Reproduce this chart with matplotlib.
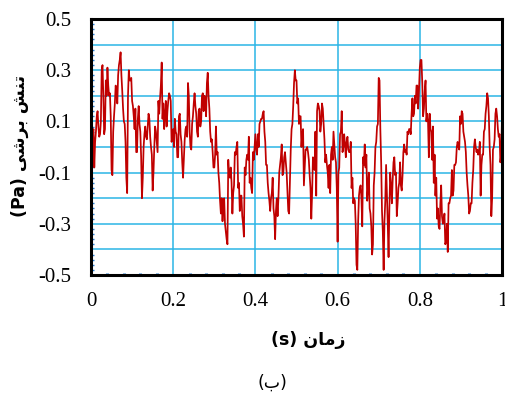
import numpy as np
import matplotlib
matplotlib.use("Agg")
import matplotlib.pyplot as plt
from matplotlib.ticker import MultipleLocator

# ---------------- data ----------------
# samples read at t = 0, 0.004, 0.008, ... , 1.0
stress_a = [
    -0.05, 0.05, -0.08, 0.06, 0.14, 0.04, 0.10, 0.32, 0.05, 0.26,
    0.31, 0.20, 0.12, -0.11, 0.12, 0.24, 0.17, 0.32, 0.37, 0.22,
    0.10, 0.02, -0.18, 0.30, 0.26, 0.18, 0.12, 0.15, -0.02, 0.16,
    0.06, -0.20, 0.00, 0.08, 0.03, 0.13, 0.04, -0.03, -0.10, 0.08,
    0.02, 0.18, 0.19, 0.33, 0.17, 0.12, 0.08, 0.18, 0.20, 0.02,
    0.07, 0.11, 0.05, -0.04, 0.13, 0.02, -0.12, 0.03, 0.08, 0.25,
    0.06, -0.01, 0.12, 0.21, 0.13, 0.04, 0.15, 0.10, 0.21, 0.20,
    0.12, 0.29, 0.15, 0.02, -0.02, -0.08, 0.08, -0.02, -0.14, -0.26,
    -0.29, -0.20, -0.33, -0.38, -0.11, -0.08, -0.26, -0.15, -0.03, 0.02,
    -0.14, -0.19, -0.27, -0.35, -0.11, -0.03, 0.04, -0.12, -0.18, -0.05,
    0.05, -0.03, 0.00, 0.10, 0.11, 0.14, 0.02, -0.07, -0.18, -0.25,
    -0.18, -0.24, -0.36, -0.20, -0.20, -0.07, 0.01, -0.10, -0.02, -0.10,
    -0.25, -0.14, 0.07, 0.16, 0.30, 0.26, 0.19, 0.12, 0.00, 0.07,
    -0.08, -0.01, -0.02, -0.11, -0.28, -0.04, -0.09, -0.19, 0.17, 0.14,
    0.09, 0.15, 0.03, -0.03, -0.10, -0.07, -0.03, -0.05, 0.01, -0.06,
    -0.37, -0.08, 0.06, -0.02, 0.05, -0.04, 0.04, -0.02, 0.02, -0.12,
    -0.20, -0.30, -0.48, -0.19, -0.15, -0.31, -0.07, -0.08, -0.21, -0.10,
    -0.26, -0.42, -0.15, 0.00, 0.08, 0.27, 0.07, -0.25, -0.48, -0.21,
    -0.18, -0.43, -0.10, -0.22, -0.06, -0.11, -0.27, -0.16, -0.06, -0.17,
    -0.02, -0.02, -0.03, 0.05, 0.07, 0.13, 0.12, 0.20, 0.24, 0.15,
    0.31, 0.34, 0.12, 0.22, 0.10, 0.10, 0.13, 0.06, 0.08, -0.03,
    -0.12, -0.24, -0.32, -0.15, -0.30, -0.26, -0.37, -0.41, -0.22, -0.19,
    -0.19, -0.07, -0.06, 0.02, -0.01, 0.09, 0.13, 0.04, -0.02, -0.15,
    -0.26, -0.22, -0.14, 0.00, 0.00, -0.01, -0.02, -0.19, -0.03, 0.06,
    0.13, 0.21, 0.12, -0.07, -0.20, 0.00, 0.13, 0.12, 0.04, -0.06,
    0.11,
]
# samples read at the half steps t = 0.002, 0.006, ... , 0.998
stress_b = [
    -0.09, 0.07, 0.02, 0.12, 0.08, 0.05, 0.30, 0.20, 0.07, 0.20,
    0.24, 0.21, -0.09, 0.06, 0.17, 0.22, 0.28, 0.34, 0.28, 0.15,
    0.09, -0.12, 0.20, 0.26, 0.27, 0.16, 0.07, -0.02, 0.11, 0.09,
    -0.04, -0.12, 0.05, 0.04, 0.08, 0.11, 0.00, -0.17, 0.00, 0.06,
    -0.02, 0.13, 0.24, 0.11, 0.07, 0.18, 0.14, 0.21, 0.18, 0.04,
    0.00, 0.06, -0.04, 0.12, 0.05, -0.06, -0.04, 0.07, 0.04, 0.20,
    0.00, 0.09, 0.17, 0.16, 0.06, 0.14, 0.08, 0.20, 0.14, 0.19,
    0.25, 0.20, 0.06, 0.03, -0.08, -0.03, -0.03, -0.10, -0.21, -0.20,
    -0.22, -0.30, -0.36, -0.05, -0.12, -0.14, -0.18, -0.02, 0.00, -0.16,
    -0.25, -0.19, -0.30, -0.08, -0.05, -0.05, -0.14, -0.16, -0.02, 0.00,
    -0.01, 0.05, 0.09, 0.11, 0.13, 0.06, -0.07, -0.14, -0.21, -0.20,
    -0.12, -0.27, -0.25, -0.27, -0.10, -0.04, -0.11, -0.04, -0.06, -0.18,
    -0.26, -0.01, 0.09, 0.25, 0.26, 0.17, 0.09, 0.12, 0.05, -0.15,
    -0.01, 0.00, -0.05, -0.16, -0.18, -0.07, 0.06, 0.14, 0.16, 0.06,
    0.17, 0.09, -0.06, -0.07, -0.16, -0.18, 0.00, 0.06, -0.04, -0.16,
    -0.10, 0.05, 0.14, 0.00, 0.01, 0.02, -0.01, -0.02, -0.16, -0.22,
    -0.21, -0.46, -0.29, -0.16, -0.20, -0.04, 0.01, -0.03, -0.16, -0.24,
    -0.31, -0.38, -0.10, 0.02, 0.09, 0.26, -0.06, -0.33, -0.29, -0.07,
    -0.30, -0.24, -0.15, -0.13, -0.04, -0.10, -0.22, -0.14, -0.15, -0.11,
    0.01, -0.01, 0.06, 0.07, 0.05, 0.19, 0.13, 0.17, 0.24, 0.22,
    0.34, 0.25, 0.15, 0.26, 0.13, -0.04, 0.07, -0.05, -0.14, -0.19,
    -0.28, -0.31, -0.22, -0.27, -0.29, -0.38, -0.30, -0.22, -0.20, -0.09,
    -0.17, -0.07, 0.00, 0.00, 0.12, 0.14, 0.06, 0.02, -0.10, -0.19,
    -0.25, -0.22, -0.09, 0.03, -0.02, -0.03, 0.02, -0.07, -0.03, 0.07,
    0.16, 0.19, 0.00, -0.27, -0.01, 0.03, 0.15, 0.07, 0.05, -0.03,
]
t_start, t_end = 0.0, 1.0

x_ticks = [0, 0.2, 0.4, 0.6, 0.8, 1]
x_tick_labels = ["0", "0.2", "0.4", "0.6", "0.8", "1"]
y_ticks = [-0.5, -0.4, -0.3, -0.2, -0.1, 0.0, 0.1, 0.2, 0.3, 0.4, 0.5]
y_tick_labels = ["-0.5", "", "-0.3", "", "-0.1", "", "0.1", "", "0.3", "", "0.5"]

ylabel_fa = "تنش برشی"
ylabel_unit = "(Pa)"
xlabel_fa = "زمان"
xlabel_unit = "(s)"
caption_fa = "ب"

# merge the two sample sets on one time axis
time_a = np.linspace(t_start, t_end, len(stress_a))
half = (time_a[1] - time_a[0]) / 2
time_b = time_a[:-1] + half
time = np.concatenate([time_a, time_b])
stress = np.concatenate([stress_a, stress_b])
order = np.argsort(time)
time, stress = time[order], stress[order]

# ------------- minimal Persian shaping (visual order) -------------
FORMS = {
    'ب': ('\uFE8F', '\uFE90', '\uFE91', '\uFE92'),
    'ت': ('\uFE95', '\uFE96', '\uFE97', '\uFE98'),
    'ن': ('\uFEE5', '\uFEE6', '\uFEE7', '\uFEE8'),
    'ش': ('\uFEB5', '\uFEB6', '\uFEB7', '\uFEB8'),
    'ی': ('\uFBFC', '\uFBFD', '\uFBFE', '\uFBFF'),
    'م': ('\uFEE1', '\uFEE2', '\uFEE3', '\uFEE4'),
    'ر': ('\uFEAD', '\uFEAE', None, None),
    'ز': ('\uFEAF', '\uFEB0', None, None),
    'ا': ('\uFE8D', '\uFE8E', None, None),
}


def shape_word(word):
    out = []
    n = len(word)
    for i, ch in enumerate(word):
        if ch not in FORMS:
            out.append(ch)
            continue
        prev = word[i - 1] if i > 0 else None
        nxt = word[i + 1] if i < n - 1 else None
        join_prev = prev in FORMS and FORMS[prev][2] is not None
        join_next = nxt in FORMS and FORMS[ch][2] is not None
        iso, fin, ini, med = FORMS[ch]
        if join_prev and join_next:
            out.append(med)
        elif join_prev:
            out.append(fin)
        elif join_next:
            out.append(ini)
        else:
            out.append(iso)
    return "".join(out)


def rtl_visual(text):
    words = text.split(" ")
    shaped = [shape_word(w)[::-1] for w in words]
    return " ".join(shaped[::-1])


# ---------------- plot ----------------
fig = plt.figure(figsize=(5.06, 3.96), dpi=100)
ax = fig.add_axes([91 / 506, 1 - 275 / 396, 411 / 506, 256 / 396])

grid_c = "#2BB5E6"
ax.set_xlim(0, 1)
ax.set_ylim(-0.5, 0.5)
ax.set_xticks(x_ticks)
ax.set_xticklabels(x_tick_labels)
ax.set_yticks(y_ticks)
ax.set_yticklabels(y_tick_labels)
ax.grid(True, which="major", color=grid_c, linewidth=1.1, zorder=0)
ax.set_axisbelow(True)

ax.plot(time, stress, color="#C00000", linewidth=1.25, zorder=3)

ax.xaxis.set_minor_locator(MultipleLocator(0.04))
ax.yaxis.set_minor_locator(MultipleLocator(0.02))
ax.tick_params(which="major", length=0, labelsize=15)
ax.tick_params(axis="x", which="major", pad=12)
ax.tick_params(axis="y", which="major", pad=14)
ax.tick_params(axis="x", which="minor", direction="in", length=1.5, width=2.2,
               color="#2A7FD0", bottom=True, top=False)
ax.tick_params(axis="y", which="minor", direction="in", length=2.5, width=1.0,
               color="#2A7FD0", left=True, right=False)
for lab in ax.get_xticklabels() + ax.get_yticklabels():
    lab.set_fontfamily("Liberation Serif")

for sp in ax.spines.values():
    sp.set_linewidth(2.2)
    sp.set_color("black")
    sp.set_zorder(5)

fig.text(20 / 506, 1 - 146 / 396, ylabel_unit + " " + rtl_visual(ylabel_fa),
         rotation=90, ha="center", va="center", fontsize=12.5,
         fontweight="bold", family=["DejaVu Sans"])
fig.text(308 / 506, 1 - 340 / 396, xlabel_unit + " " + rtl_visual(xlabel_fa),
         ha="center", va="center", fontsize=12.5, fontweight="bold",
         family=["DejaVu Sans"])
fig.text(272 / 506, 1 - 383 / 396, "(" + rtl_visual(caption_fa) + ")",
         ha="center", va="center", fontsize=12.5, family=["DejaVu Sans"])

fig.savefig("out.png", dpi=100)
